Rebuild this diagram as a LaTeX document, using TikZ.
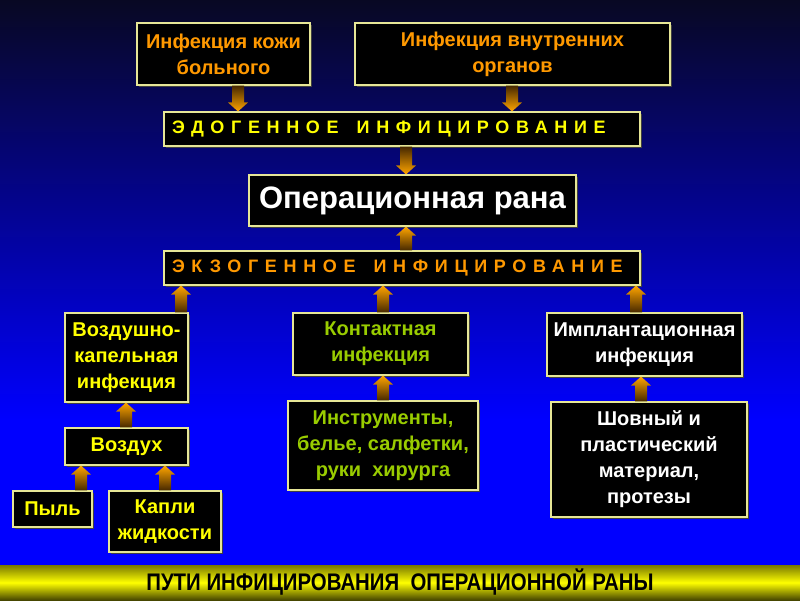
\documentclass[tikz,border=0pt]{standalone}
\usepackage{fontspec}
\setmainfont{Liberation Sans}
\newfontfamily\spacedfont[LetterSpace=37]{Liberation Sans}
\newfontfamily\titlefont[FakeStretch=0.85]{Liberation Sans}
\usetikzlibrary{calc,shadows}

\definecolor{bgtop}{RGB}{8,8,35}
\definecolor{bgblue}{RGB}{0,0,255}
\definecolor{boxline}{RGB}{230,230,150}
\definecolor{txtorange}{RGB}{255,153,0}
\definecolor{txtyellow}{RGB}{255,255,0}
\definecolor{txtgreen}{RGB}{153,204,0}
\definecolor{arrtail}{RGB}{70,40,0}
\definecolor{arrhead}{RGB}{255,165,0}
\definecolor{bartop}{RGB}{120,120,0}
\definecolor{barbottom}{RGB}{70,70,0}

\tikzset{
  box/.style={draw=boxline,line width=1.1pt,fill=black,inner sep=2pt,align=center,
    font=\fontsize{20}{26}\selectfont\bfseries,
    drop shadow={shadow xshift=2pt,shadow yshift=-2pt,fill=black!75,opacity=1}},
  bandbox/.style={box,minimum width=476pt,minimum height=34pt,text width=460pt,align=left,
    font=\spacedfont\fontsize{18}{20}\selectfont\bfseries},
  arrow up/.style={top color=arrhead,bottom color=arrtail},
  arrow down/.style={top color=arrtail,bottom color=arrhead}
}

% block arrows: x position, from node, to node
\newcommand{\feedup}[3]{%
  \path[arrow up] let \p1=(#2.north), \p2=(#3.south) in
    (#1pt-6pt,\y1) -- (#1pt-6pt,\y2-9pt) -- (#1pt-10pt,\y2-9pt) -- (#1pt,\y2)
    -- (#1pt+10pt,\y2-9pt) -- (#1pt+6pt,\y2-9pt) -- (#1pt+6pt,\y1) -- cycle;}
\newcommand{\feeddown}[3]{%
  \path[arrow down] let \p1=(#2.south), \p2=(#3.north) in
    (#1pt-6pt,\y1) -- (#1pt-6pt,\y2+9pt) -- (#1pt-10pt,\y2+9pt) -- (#1pt,\y2)
    -- (#1pt+10pt,\y2+9pt) -- (#1pt+6pt,\y2+9pt) -- (#1pt+6pt,\y1) -- cycle;}

\begin{document}
\begin{tikzpicture}[x=1pt,y=-1pt]
\useasboundingbox (0,0) rectangle (800,600);
% background
\shade[top color=bgtop,bottom color=bgblue] (0,0) rectangle (800,420);
\fill[bgblue] (0,419) rectangle (800,566);
\shade[top color=bartop,bottom color=barbottom,middle color=yellow] (0,565) rectangle (800,600);
\node[font=\titlefont\fontsize{24}{26}\selectfont\bfseries,text=black] (title) at (400,582.5)
  {ПУТИ ИНФИЦИРОВАНИЯ\ \ ОПЕРАЦИОННОЙ РАНЫ};

% sources of endogenous infection
\node[box,text=txtorange,minimum width=173pt,minimum height=62pt] (skin) at (223.5,54)
  {Инфекция кожи\\больного};
\node[box,text=txtorange,minimum width=315pt,minimum height=62pt] (organs) at (512.5,54)
  {Инфекция внутренних\\органов};
\node[bandbox,text=txtyellow] (endo) at (402,129)
  {ЭДОГЕННОЕ\hspace{18pt}ИНФИЦИРОВАНИЕ};

\node[box,text=white,minimum width=327pt,minimum height=51pt,
  font=\fontsize{31}{34}\selectfont\bfseries] (wound) at (412.5,200.5)
  {Операционная рана};

\node[bandbox,text=txtorange] (exo) at (402,268)
  {ЭКЗОГЕННОЕ\hspace{18pt}ИНФИЦИРОВАНИЕ};

% exogenous ways
\node[box,text=txtyellow,minimum width=123pt,minimum height=89pt] (aero) at (126.5,357.5)
  {Воздушно-\\капельная\\инфекция};
\node[box,text=txtgreen,minimum width=175pt,minimum height=62pt] (contact) at (380.5,344)
  {Контактная\\инфекция};
\node[box,text=white,minimum width=195pt,minimum height=63pt] (implant) at (644.5,344.5)
  {Имплантационная\\инфекция};

\node[box,text=txtyellow,minimum width=123pt,minimum height=37pt] (air) at (126.5,446.5)
  {Воздух};
\node[box,text=txtyellow,minimum width=79pt,minimum height=36pt] (dust) at (52.5,509)
  {Пыль};
\node[box,text=txtyellow,minimum width=112pt,minimum height=61pt] (drops) at (165,521.5)
  {Капли\\жидкости};
\node[box,text=txtgreen,minimum width=190pt,minimum height=89pt] (tools) at (383,445.5)
  {Инструменты,\\белье, салфетки,\\руки\ \ хирурга};
\node[box,text=white,minimum width=196pt,minimum height=115pt] (suture) at (649,459.5)
  {Шовный и\\пластический\\материал,\\протезы};

% arrows
\feeddown{238}{skin}{endo}
\feeddown{512}{organs}{endo}
\feeddown{406}{endo}{wound}
\feedup{406}{exo}{wound}
\feedup{181}{aero}{exo}
\feedup{383}{contact}{exo}
\feedup{636}{implant}{exo}
\feedup{126}{air}{aero}
\feedup{81}{dust}{air}
\feedup{165}{drops}{air}
\feedup{383}{tools}{contact}
\feedup{641}{suture}{implant}
\end{tikzpicture}
\end{document}
